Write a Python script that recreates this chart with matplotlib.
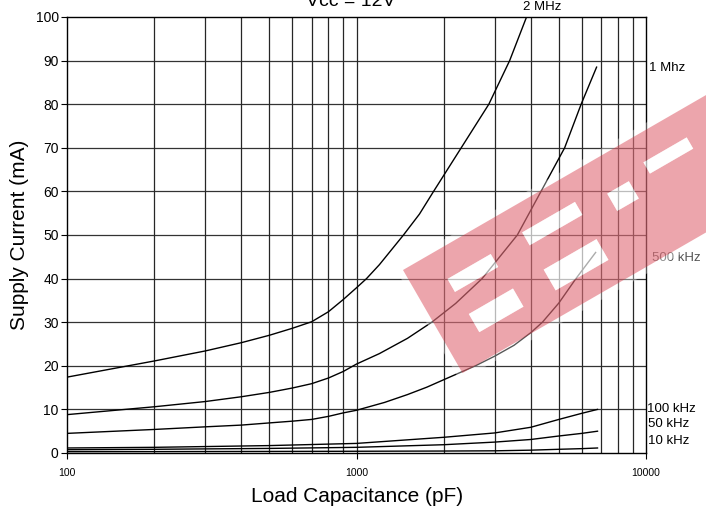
import numpy as np
import matplotlib
matplotlib.use("Agg")
import matplotlib.pyplot as plt
from matplotlib.path import Path
from matplotlib.patches import PathPatch, Polygon

plt.rcParams['font.family'] = ['Liberation Sans', 'DejaVu Sans']

# Supply current vs load capacitance, Vcc = 12V
cap_2mhz = [100, 200, 300, 400, 500, 600, 700, 800, 900, 1000, 1083, 1200, 1453, 1650, 1846, 2300, 2865, 3381, 3867]
cur_2mhz = [17.4, 21.1, 23.4, 25.3, 27.0, 28.6, 30.1, 32.4, 35.2, 37.9, 40, 43.2, 50, 54.8, 60, 70, 80, 90, 100]

cap_1mhz = [100, 200, 300, 400, 500, 600, 700, 800, 900, 1000, 1200, 1500, 1820, 2200, 2716, 3594, 4339, 5236, 5970, 6750]
cur_1mhz = [8.8, 10.6, 11.8, 12.9, 13.9, 14.9, 15.9, 17.2, 18.7, 20.4, 22.8, 26.3, 30, 34.3, 40, 50, 60, 70, 80, 88.5]

cap_500k = [100, 200, 300, 400, 500, 600, 700, 800, 900, 1000, 1250, 1500, 1750, 2000, 2576, 3000, 3500, 4000, 4387, 5000, 5728, 6700]
cur_500k = [4.5, 5.4, 6.0, 6.4, 6.9, 7.3, 7.7, 8.4, 9.2, 9.8, 11.6, 13.4, 15.1, 16.8, 20, 22.2, 24.7, 27.6, 30, 34.4, 40, 46.0]

cap_low = [100, 200, 500, 1000, 2000, 3000, 4000, 5000, 6000, 6800]
cur_100k = [1.15, 1.3, 1.7, 2.2, 3.6, 4.6, 5.9, 7.7, 9.1, 10.0]
cur_50k = [0.75, 0.85, 1.05, 1.3, 1.9, 2.5, 3.1, 3.9, 4.5, 5.0]
cur_10k = [0.3, 0.32, 0.36, 0.4, 0.45, 0.5, 0.65, 0.85, 1.0, 1.15]

fig = plt.figure(figsize=(7.06, 5.2), dpi=100)
ax = fig.add_axes([67/706, 1 - 453/520, (646 - 67)/706, (453 - 17)/520])

for caps, cur in [(cap_2mhz, cur_2mhz), (cap_1mhz, cur_1mhz), (cap_500k, cur_500k),
                  (cap_low, cur_100k), (cap_low, cur_50k), (cap_low, cur_10k)]:
    ax.plot(caps, cur, color='black', lw=1.0, zorder=3)

ax.set_xscale('log')
ax.set_xlim(100, 10000)
ax.set_ylim(0, 100)
ax.set_xticks([100, 1000, 10000])
ax.set_xticklabels(['100', '1000', '10000'])
ax.set_xticks([], minor=True)
ax.set_yticks(np.arange(0, 101, 10))

# grid: every 10 mA and every log minor step
for v in range(10, 100, 10):
    ax.axhline(v, color='0.2', lw=0.9, zorder=1)
for dec in [100, 1000]:
    for m in range(2, 10):
        ax.axvline(dec * m, color='0.15', lw=0.9, zorder=1)
ax.axvline(1000, color='0.15', lw=0.9, zorder=1)

for s in ax.spines.values():
    s.set_color('black')
    s.set_linewidth(1.0)

ax.tick_params(axis='y', labelsize=10, length=4, width=0.8, pad=2)
ax.tick_params(axis='x', labelsize=7.5, length=4, width=0.8, pad=7)

fig.text(357/706, 1 - 497/520, 'Load Capacitance (pF)', ha='center', va='center', fontsize=15)
fig.text(20/706, 1 - 235/520, 'Supply Current (mA)', ha='center', va='center', fontsize=15, rotation=90)
fig.text(351/706, 1 - 6/520, 'Vcc = 12V', ha='center', va='baseline', fontsize=14)

# curve labels
fig.text(542/706, 1 - 10/520, '2 MHz', ha='center', va='baseline', fontsize=9.5)
fig.text(649/706, 1 - 68/520, '1 Mhz', ha='left', va='center', fontsize=9.5)
fig.text(652/706, 1 - 258/520, '500 kHz', ha='left', va='center', fontsize=9.5, color='#555555')
fig.text(647/706, 1 - 409/520, '100 kHz', ha='left', va='center', fontsize=9.5)
fig.text(648/706, 1 - 424/520, '50 kHz', ha='left', va='center', fontsize=9.5)
fig.text(648/706, 1 - 441/520, '10 kHz', ha='left', va='center', fontsize=9.5)


# watermark: tilted red band with white slots (band-local u along, v across)
def band_xy(u, v):
    x = 403 + 0.866 * u + 0.5 * v
    y = 270 - 0.5 * u + 0.866 * v
    return (x / 706, 1 - y / 520)


def rect(u0, u1, v0, v1):
    return [band_xy(u0, v0), band_xy(u1, v0), band_xy(u1, v1), band_xy(u0, v1)]


band = rect(0, 420, 0, 119)
holes = [rect(34, 84, 30, 45), rect(35, 86, 71, 92),
         rect(122, 183, 27, 42), rect(122, 183, 70, 94),
         rect(215, 240, 36, 56), rect(262, 312, 27, 40)]

halo = Polygon(rect(-6, 430, -6, 125), closed=True, transform=fig.transFigure,
               facecolor='white', edgecolor='none', alpha=0.35, zorder=4)
fig.add_artist(halo)

verts, codes = [], []
for i, poly in enumerate([band] + holes):
    pts = poly if i == 0 else poly[::-1]
    verts += pts + [pts[0]]
    codes += [Path.MOVETO] + [Path.LINETO] * (len(pts) - 1) + [Path.CLOSEPOLY]
wm = PathPatch(Path(verts, codes), transform=fig.transFigure, facecolor='#d42a3a',
               edgecolor='none', alpha=0.42, zorder=5)
fig.add_artist(wm)
for h in holes:
    fig.add_artist(Polygon(h, closed=True, transform=fig.transFigure, facecolor='white',
                           edgecolor='none', alpha=0.5, zorder=5))

fig.savefig('out.png', dpi=100)
